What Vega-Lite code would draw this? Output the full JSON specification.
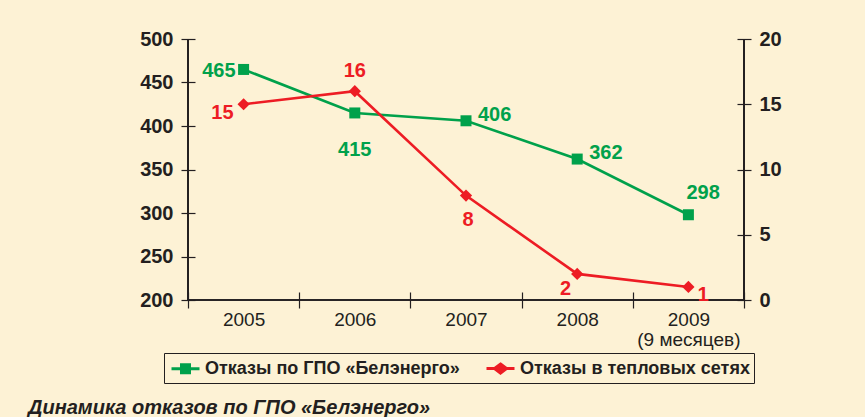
{
  "$schema": "https://vega.github.io/schema/vega-lite/v6.json",
  "width": 556,
  "height": 261,
  "autosize": "none",
  "padding": {"left": 188, "top": 39, "right": 121, "bottom": 117},
  "background": "#FDF2D5",
  "data": {
    "values": [
      {"year": "2005", "series": "Отказы по ГПО «Белэнерго»", "value": 465},
      {"year": "2006", "series": "Отказы по ГПО «Белэнерго»", "value": 415},
      {"year": "2007", "series": "Отказы по ГПО «Белэнерго»", "value": 406},
      {"year": "2008", "series": "Отказы по ГПО «Белэнерго»", "value": 362},
      {"year": "2009", "series": "Отказы по ГПО «Белэнерго»", "value": 298},
      {"year": "2005", "series": "Отказы в тепловых сетях", "value": 15},
      {"year": "2006", "series": "Отказы в тепловых сетях", "value": 16},
      {"year": "2007", "series": "Отказы в тепловых сетях", "value": 8},
      {"year": "2008", "series": "Отказы в тепловых сетях", "value": 2},
      {"year": "2009", "series": "Отказы в тепловых сетях", "value": 1}
    ]
  },
  "title": {
    "text": "Динамика отказов по ГПО «Белэнерго»",
    "orient": "bottom",
    "anchor": "start",
    "frame": "group",
    "dx": -160,
    "offset": 14,
    "font": "Liberation Sans",
    "fontSize": 20,
    "fontStyle": "italic",
    "fontWeight": "bold",
    "color": "#231F20"
  },
  "config": {
    "view": {"stroke": null},
    "font": "Liberation Sans",
    "axis": {
      "domain": false,
      "grid": false,
      "offset": -7,
      "tickSize": 14,
      "tickColor": "#231F20",
      "tickWidth": 1.2,
      "labelColor": "#231F20",
      "labelFont": "Liberation Sans",
      "labelFontSize": 20,
      "title": null
    },
    "axisX": {
      "offset": -8,
      "tickSize": 16,
      "tickBand": "extent",
      "labelFontWeight": "normal",
      "labelFontSize": 19,
      "labelPadding": 2,
      "labelLineHeight": 20,
      "labelAngle": 0
    },
    "axisY": {"labelFontWeight": "bold", "labelPadding": 8},
    "legend": {
      "orient": "none",
      "legendX": -24,
      "legendY": 314,
      "direction": "horizontal",
      "strokeColor": "#231F20",
      "fillColor": "#FDF2D5",
      "padding": 4,
      "symbolOffset": 6,
      "symbolSize": 400,
      "symbolStrokeWidth": 3,
      "symbolOpacity": 1,
      "labelOffset": 8,
      "labelLimit": 0,
      "columnPadding": 20,
      "labelFont": "Liberation Sans",
      "labelFontSize": 18,
      "labelFontWeight": "bold",
      "labelColor": "#231F20"
    }
  },
  "layer": [
    {
      "transform": [{"filter": "datum.series == 'Отказы по ГПО «Белэнерго»'"}],
      "layer": [
        {
          "mark": {"type": "line", "color": "#00A14B", "strokeWidth": 2.6},
          "encoding": {
            "x": {
              "field": "year",
              "type": "ordinal",
              "scale": {"type": "band", "paddingInner": 0, "paddingOuter": 0, "domain": ["2005", "2006", "2007", "2008", "2009"]},
              "axis": {"labelExpr": "datum.value == '2009' ? ['2009', '(9 месяцев)'] : datum.label"}
            },
            "y": {
              "field": "value",
              "type": "quantitative",
              "scale": {"domain": [200, 500], "nice": false, "zero": false},
              "axis": {"orient": "left", "values": [200, 250, 300, 350, 400, 450, 500]}
            }
          }
        },
        {
          "mark": {"type": "point", "shape": "square", "filled": true, "size": 121, "color": "#00A14B", "opacity": 1},
          "encoding": {
            "x": {"field": "year", "type": "ordinal"},
            "y": {"field": "value", "type": "quantitative"}
          }
        },
        {
          "mark": {"type": "point", "opacity": 0, "strokeWidth": 3},
          "encoding": {
            "x": {"field": "year", "type": "ordinal"},
            "y": {"field": "value", "type": "quantitative"},
            "fill": {"field": "series", "type": "nominal", "title": null, "scale": {"domain": ["Отказы по ГПО «Белэнерго»", "Отказы в тепловых сетях"], "range": ["#00A14B", "#ED1C24"]}},
            "stroke": {"field": "series", "type": "nominal", "title": null, "scale": {"domain": ["Отказы по ГПО «Белэнерго»", "Отказы в тепловых сетях"], "range": ["#00A14B", "#ED1C24"]}},
            "shape": {"field": "series", "type": "nominal", "title": null, "scale": {"domain": ["Отказы по ГПО «Белэнерго»", "Отказы в тепловых сетях"], "range": ["M-1.4,0H1.4M-0.4,-0.4H0.4V0.4H-0.4Z", "M-1.4,0H1.4M0,-0.45L0.6,0L0,0.45L-0.6,0Z"]}}
          }
        },
        {
          "mark": {"type": "rule", "color": "#231F20", "strokeWidth": 1.2},
          "encoding": {"y": {"datum": 200}}
        },
        {
          "mark": {"type": "rule", "color": "#231F20", "strokeWidth": 1.2},
          "encoding": {"x": {"datum": "2005", "bandPosition": 0}}
        },
        {
          "mark": {"type": "rule", "color": "#231F20", "strokeWidth": 1.2},
          "encoding": {"x": {"datum": "2009", "bandPosition": 1}}
        },
        {
          "transform": [{"filter": "datum.year == '2005'"}],
          "mark": {"type": "text", "align": "right", "dx": -8, "dy": 2, "fontSize": 20, "fontWeight": "bold", "color": "#00A14B"},
          "encoding": {"x": {"field": "year", "type": "ordinal"}, "y": {"field": "value", "type": "quantitative"}, "text": {"field": "value", "type": "quantitative"}}
        },
        {
          "transform": [{"filter": "datum.year == '2006'"}],
          "mark": {"type": "text", "align": "center", "dy": 37, "fontSize": 20, "fontWeight": "bold", "color": "#00A14B"},
          "encoding": {"x": {"field": "year", "type": "ordinal"}, "y": {"field": "value", "type": "quantitative"}, "text": {"field": "value", "type": "quantitative"}}
        },
        {
          "transform": [{"filter": "datum.year == '2007' || datum.year == '2008'"}],
          "mark": {"type": "text", "align": "left", "dx": 12, "dy": -6, "fontSize": 20, "fontWeight": "bold", "color": "#00A14B"},
          "encoding": {"x": {"field": "year", "type": "ordinal"}, "y": {"field": "value", "type": "quantitative"}, "text": {"field": "value", "type": "quantitative"}}
        },
        {
          "transform": [{"filter": "datum.year == '2009'"}],
          "mark": {"type": "text", "align": "left", "dx": -2, "dy": -22, "fontSize": 20, "fontWeight": "bold", "color": "#00A14B"},
          "encoding": {"x": {"field": "year", "type": "ordinal"}, "y": {"field": "value", "type": "quantitative"}, "text": {"field": "value", "type": "quantitative"}}
        }
      ]
    },
    {
      "transform": [{"filter": "datum.series == 'Отказы в тепловых сетях'"}],
      "layer": [
        {
          "mark": {"type": "line", "color": "#ED1C24", "strokeWidth": 2.6},
          "encoding": {
            "x": {"field": "year", "type": "ordinal"},
            "y": {
              "field": "value",
              "type": "quantitative",
              "scale": {"domain": [0, 20], "nice": false},
              "axis": {"orient": "right", "values": [0, 5, 10, 15, 20]}
            }
          }
        },
        {
          "mark": {"type": "point", "shape": "diamond", "filled": true, "size": 150, "color": "#ED1C24", "opacity": 1},
          "encoding": {
            "x": {"field": "year", "type": "ordinal"},
            "y": {"field": "value", "type": "quantitative"}
          }
        },
        {
          "transform": [{"filter": "datum.year == '2005'"}],
          "mark": {"type": "text", "align": "right", "dx": -10, "dy": 9, "fontSize": 20, "fontWeight": "bold", "color": "#ED1C24"},
          "encoding": {"x": {"field": "year", "type": "ordinal"}, "y": {"field": "value", "type": "quantitative"}, "text": {"field": "value", "type": "quantitative"}}
        },
        {
          "transform": [{"filter": "datum.year == '2006'"}],
          "mark": {"type": "text", "align": "center", "dy": -20, "fontSize": 20, "fontWeight": "bold", "color": "#ED1C24"},
          "encoding": {"x": {"field": "year", "type": "ordinal"}, "y": {"field": "value", "type": "quantitative"}, "text": {"field": "value", "type": "quantitative"}}
        },
        {
          "transform": [{"filter": "datum.year == '2007'"}],
          "mark": {"type": "text", "align": "center", "dx": 2, "dy": 24, "fontSize": 20, "fontWeight": "bold", "color": "#ED1C24"},
          "encoding": {"x": {"field": "year", "type": "ordinal"}, "y": {"field": "value", "type": "quantitative"}, "text": {"field": "value", "type": "quantitative"}}
        },
        {
          "transform": [{"filter": "datum.year == '2008'"}],
          "mark": {"type": "text", "align": "right", "dx": -6, "dy": 15, "fontSize": 20, "fontWeight": "bold", "color": "#ED1C24"},
          "encoding": {"x": {"field": "year", "type": "ordinal"}, "y": {"field": "value", "type": "quantitative"}, "text": {"field": "value", "type": "quantitative"}}
        },
        {
          "transform": [{"filter": "datum.year == '2009'"}],
          "mark": {"type": "text", "align": "left", "dx": 9, "dy": 8, "fontSize": 20, "fontWeight": "bold", "color": "#ED1C24"},
          "encoding": {"x": {"field": "year", "type": "ordinal"}, "y": {"field": "value", "type": "quantitative"}, "text": {"field": "value", "type": "quantitative"}}
        }
      ]
    }
  ],
  "resolve": {"scale": {"y": "independent"}}
}
